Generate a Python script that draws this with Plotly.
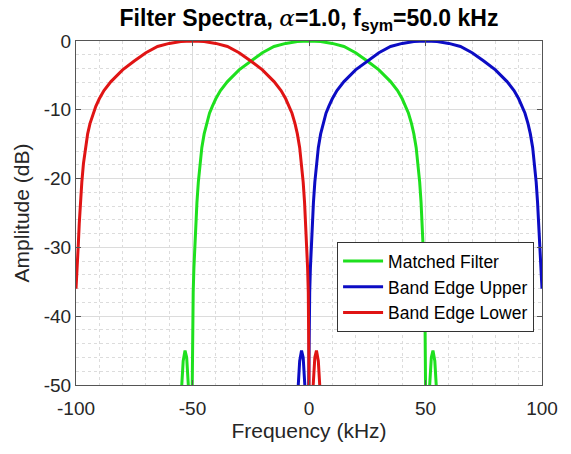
import plotly.graph_objects as go

# ---- data ----
freq_matched = [-56.0, -55.3, -54.6, -54.0, -53.2, -52.5, -51.8, -51.2, -50.6, -50.3,
                -50.1, -49.9, -49.7, -49.4, -49.0, -48.6, -48.1, -47.5, -46.8, -46.0,
                -45.0, -44.0, -42.7, -41.5, -40.0, -38.0, -35.0, -30.0, -25.0, -20.0,
                -15.0, -10.0, -5.0, 0.0,
                5.0, 10.0, 15.0, 20.0, 25.0, 30.0, 35.0, 38.0, 40.0, 41.5,
                42.7, 44.0, 45.0, 46.0, 46.8, 47.5, 48.1, 48.6, 49.0, 49.4,
                49.7, 49.9, 50.1, 50.3, 50.6, 51.2, 51.8, 52.5, 53.2, 54.0,
                54.6, 55.3, 56.0]
amp_matched = [-75.0, -62.0, -50.0, -46.5, -45.0, -46.0, -50.0, -60.0, -75.0, -56.0,
               -47.0, -40.0, -36.5, -33.0, -29.5, -26.5, -23.5, -20.5, -17.8, -15.5,
               -13.5, -12.0, -10.5, -9.5, -8.4, -7.2, -5.9, -4.2, -2.9, -1.7,
               -0.8, -0.35, -0.09, 0.0,
               -0.09, -0.35, -0.8, -1.7, -2.9, -4.2, -5.9, -7.2, -8.4, -9.5,
               -10.5, -12.0, -13.5, -15.5, -17.8, -20.5, -23.5, -26.5, -29.5, -33.0,
               -36.5, -40.0, -47.0, -56.0, -75.0, -60.0, -50.0, -46.0, -45.0, -46.5,
               -50.0, -62.0, -75.0]

freq_upper = [-6.0, -5.3, -4.6, -4.0, -3.2, -2.5, -1.8, -1.2, -0.6, -0.3,
              -0.1, 0.1, 0.3, 0.6, 1.0, 1.4, 1.9, 2.5, 3.2, 4.0,
              5.0, 6.0, 7.3, 8.5, 10.0, 12.0, 15.0, 20.0, 25.0, 30.0,
              35.0, 40.0, 45.0, 50.0, 55.0, 60.0, 65.0, 70.0, 75.0, 80.0,
              85.0, 88.0, 90.0, 91.5, 92.7, 94.0, 95.0, 96.0, 96.8, 97.5,
              98.1, 98.6, 99.0, 99.4, 100.0]
amp_upper = [-75.0, -62.0, -50.0, -46.5, -45.0, -46.0, -50.0, -60.0, -75.0, -56.0,
             -47.0, -40.0, -36.5, -33.0, -29.5, -26.5, -23.5, -20.5, -17.8, -15.5,
             -13.5, -12.0, -10.5, -9.5, -8.4, -7.2, -5.9, -4.2, -2.9, -1.7,
             -0.8, -0.35, -0.09, 0.0, -0.09, -0.35, -0.8, -1.7, -2.9, -4.2,
             -5.9, -7.2, -8.4, -9.5, -10.5, -12.0, -13.5, -15.5, -17.8, -20.5,
             -23.5, -26.5, -29.5, -33.0, -36.0]

freq_lower = [-100.0, -99.4, -99.0, -98.6, -98.1, -97.5, -96.8, -96.0, -95.0, -94.0,
              -92.7, -91.5, -90.0, -88.0, -85.0, -80.0, -75.0, -70.0, -65.0, -60.0,
              -55.0, -50.0, -45.0, -40.0, -35.0, -30.0, -25.0, -20.0, -15.0, -12.0,
              -10.0, -8.5, -7.3, -6.0, -5.0, -4.0, -3.2, -2.5, -1.9, -1.4,
              -1.0, -0.6, -0.3, -0.1, 0.1, 0.3, 0.6, 1.2, 1.8, 2.5,
              3.2, 4.0, 4.6, 5.3, 6.0]
amp_lower = [-36.0, -33.0, -29.5, -26.5, -23.5, -20.5, -17.8, -15.5, -13.5, -12.0,
             -10.5, -9.5, -8.4, -7.2, -5.9, -4.2, -2.9, -1.7, -0.8, -0.35,
             -0.09, 0.0, -0.09, -0.35, -0.8, -1.7, -2.9, -4.2, -5.9, -7.2,
             -8.4, -9.5, -10.5, -12.0, -13.5, -15.5, -17.8, -20.5, -23.5, -26.5,
             -29.5, -33.0, -36.5, -40.0, -47.0, -56.0, -75.0, -60.0, -50.0, -46.0,
             -45.0, -46.5, -50.0, -62.0, -75.0]

series_names = ["Matched Filter", "Band Edge Upper", "Band Edge Lower"]
x_tick_vals = [-100, -50, 0, 50, 100]
x_tick_text = ["-100", "-50", "0", "50", "100"]
y_tick_vals = [-50, -40, -30, -20, -10, 0]
y_tick_text = ["-50", "-40", "-30", "-20", "-10", "0"]

colors = ["#1ee01e", "#0c0cc4", "#e01414"]
FONT = "Liberation Sans, Arial, Helvetica, sans-serif"

fig = go.Figure()
for name, xs, ys, c in zip(series_names,
                           [freq_matched, freq_upper, freq_lower],
                           [amp_matched, amp_upper, amp_lower], colors):
    fig.add_trace(go.Scatter(x=xs, y=ys, mode="lines", name=name,
                             line=dict(color=c, width=3)))

axis_common = dict(
    showline=True, linecolor="#555555", linewidth=1, mirror="ticks",
    ticks="inside", ticklen=5, tickcolor="#555555",
    showgrid=True, gridcolor="#dcdcdc", gridwidth=1,
    zeroline=False, automargin=False,
    tickfont=dict(family=FONT, size=19, color="#262626"),
)

fig.update_xaxes(**axis_common, range=[-100, 100], tickvals=x_tick_vals, ticktext=x_tick_text,
                 ticklabelstandoff=6,
                 minor=dict(dtick=10, tick0=0, showgrid=True, griddash="dot",
                            gridcolor="#dcdcdc", ticks=""),
                 title=dict(text="Frequency (kHz)", font=dict(family=FONT, size=21, color="#262626"),
                            standoff=1))
fig.update_yaxes(**axis_common, range=[-50, 0], tickvals=y_tick_vals, ticktext=y_tick_text,
                 minor=dict(dtick=2, tick0=0, showgrid=True, griddash="dot",
                            gridcolor="#dcdcdc", ticks=""),
                 title=dict(text="Amplitude (dB)", font=dict(family=FONT, size=21, color="#262626"),
                            standoff=8))

# the page body adds an 8 px offset, so the figure is sized to fill the rest of the window
W, H = 563, 446
fig.update_layout(
    width=W, height=H,
    margin=dict(l=68, r=29, t=33, b=69),
    paper_bgcolor="white", plot_bgcolor="white",
    title=dict(text="<b>Filter Spectra, <span style='font-family:DejaVu Serif;font-weight:normal;font-style:italic'>α</span>=1.0, f<sub>sym</sub>=50.0 kHz</b>",
               font=dict(family=FONT, size=23, color="black"),
               x=301 / W, xanchor="center", y=1.0, yanchor="top", yref="container",
               pad=dict(t=2)),
    legend=dict(x=0.983, y=0.415, xanchor="right", yanchor="top",
                bgcolor="white", bordercolor="#333333", borderwidth=1,
                font=dict(family=FONT, size=17.5, color="black"),
                tracegroupgap=0, itemwidth=40),
    showlegend=True,
)

fig.write_html("out.html")
